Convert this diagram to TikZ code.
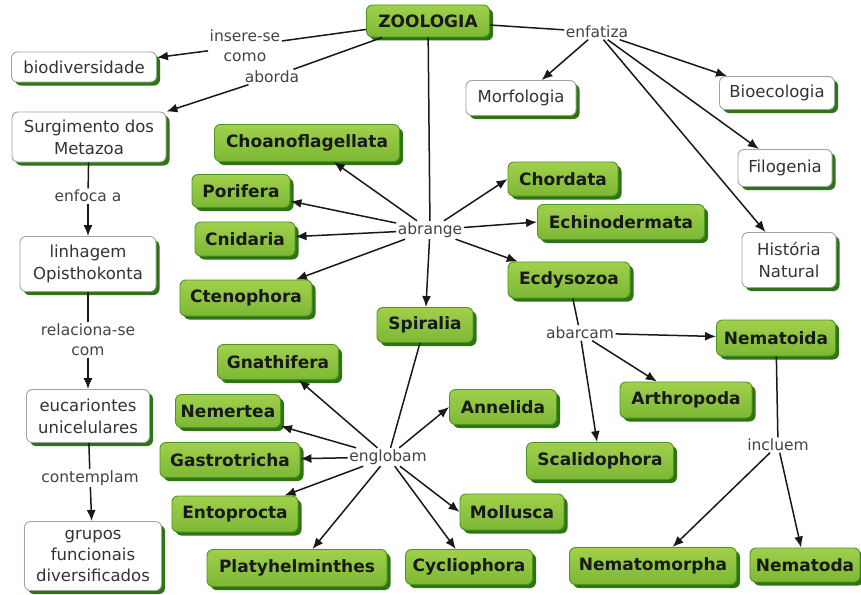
\documentclass[tikz,border=0pt]{standalone}
\usepackage{fontspec}
\setmainfont{DejaVu Sans}
\usetikzlibrary{arrows.meta,shadows}
\definecolor{gtop}{HTML}{A0D04C}
\definecolor{gbot}{HTML}{7CB834}
\definecolor{gborder}{HTML}{4E9422}
\definecolor{gshadow}{HTML}{2F7414}
\definecolor{wborder}{HTML}{9AA89A}
\definecolor{wtext}{HTML}{333333}
\definecolor{phr}{HTML}{444444}
\begin{document}
\begin{tikzpicture}[x=1pt,y=-1pt,
  wh/.style 2 args={minimum width=#1, minimum height=#2},
  gbox/.style={draw=gborder, line width=0.9pt, rounded corners=6pt,
    top color=gtop, bottom color=gbot, text=black!90,
    font=\fontsize{17}{21}\selectfont\bfseries, inner xsep=3pt, inner ysep=2pt,
    drop shadow={shadow xshift=3.5pt, shadow yshift=-3.5pt, fill=gshadow, opacity=1}},
  wbox/.style={draw=wborder, line width=0.9pt, rounded corners=6pt, fill=white,
    text=wtext, align=center,
    font=\fontsize{16.5}{22}\selectfont, inner xsep=3pt, inner ysep=2pt,
    drop shadow={shadow xshift=3.5pt, shadow yshift=-3.5pt, fill=gshadow, opacity=1}},
  phrase/.style={text=phr, align=center, font=\fontsize{15.5}{20}\selectfont,
    inner sep=1.5pt},
  con/.style={draw=black!90, line width=1.5pt},
  arr/.style={con, -{Latex[length=11pt,width=9pt]}}
]
\useasboundingbox (0,0) rectangle (861,594);
\fill[white] (0,0) rectangle (861,594);

% concepts
\node[gbox, wh={123}{32}] (zoo) at (428,21) {ZOOLOGIA};
\node[wbox, wh={145}{30}] (bio) at (84,67) {biodiversidade};
\node[wbox, wh={154}{50}] (surg) at (89,137) {Surgimento dos\\Metazoa};
\node[wbox, wh={136}{55}] (linh) at (88,264) {linhagem\\Opisthokonta};
\node[wbox, wh={123}{53}] (euc) at (88,416) {eucariontes\\unicelulares};
\node[wbox, wh={137}{69}, font=\fontsize{16.5}{21}\selectfont] (grup) at (93,556) {grupos\\funcionais\\diversificados};
\node[wbox, wh={110}{35}] (morf) at (521,98) {Morfologia};
\node[wbox, wh={115}{33}] (bioe) at (777,93) {Bioecologia};
\node[wbox, wh={94}{37}] (filo) at (785,168) {Filogenia};
\node[wbox, wh={94}{55}] (hist) at (789,260) {História\\Natural};

\node[gbox, wh={185}{37}] (choa) at (307,143) {Choanoflagellata};
\node[gbox, wh={98}{33}] (pori) at (241,191) {Porifera};
\node[gbox, wh={100}{34}] (cnid) at (245,239) {Cnidaria};
\node[gbox, wh={132}{36}] (cten) at (246,298) {Ctenophora};
\node[gbox, wh={110}{34}] (chor) at (563,179) {Chordata};
\node[gbox, wh={167}{35}] (echi) at (621,222) {Echinodermata};
\node[gbox, wh={122}{36}] (ecdy) at (569,280) {Ecdysozoa};
\node[gbox, wh={96}{35}] (spir) at (425,325) {Spiralia};
\node[gbox, wh={121}{35}] (gnat) at (278,362) {Gnathifera};
\node[gbox, wh={105}{33}] (neme) at (228,411) {Nemertea};
\node[gbox, wh={140}{35}] (gast) at (230,460) {Gastrotricha};
\node[gbox, wh={126}{36}] (ento) at (235,514) {Entoprocta};
\node[gbox, wh={180}{37}] (plat) at (297,568) {Platyhelminthes};
\node[gbox, wh={107}{35}] (anne) at (503,407) {Annelida};
\node[gbox, wh={104}{36}] (moll) at (512,512) {Mollusca};
\node[gbox, wh={127}{35}] (cycl) at (469,567) {Cycliophora};
\node[gbox, wh={119}{36}] (nmtd) at (776,338) {Nematoida};
\node[gbox, wh={132}{36}] (arth) at (686,400) {Arthropoda};
\node[gbox, wh={147}{37}] (scal) at (600,461) {Scalidophora};
\node[gbox, wh={167}{37}] (nmtm) at (653,566) {Nematomorpha};
\node[gbox, wh={110}{34}] (nmtda) at (805,565) {Nematoda};

% linking phrases
\node[phrase] (ins) at (245,46) {insere-se\\como};
\node[phrase] (abo) at (272,77) {aborda};
\node[phrase] (enf) at (597,32) {enfatiza};
\node[phrase] (enfo) at (88,196) {enfoca a};
\node[phrase] (rel) at (88,340) {relaciona-se\\com};
\node[phrase] (cont) at (90,478) {contemplam};
\node[phrase] (abr) at (430,230) {abrange};
\node[phrase] (eng) at (388,457) {englobam};
\node[phrase] (abar) at (580,333) {abarcam};
\node[phrase] (incl) at (778,445) {incluem};

% connectors
\draw[con] (zoo) -- (ins);
\draw[arr] (ins) -- (bio);
\draw[con] (zoo) -- (abo);
\draw[arr] (abo) -- (surg);
\draw[con] (zoo) -- (enf);
\draw[arr] (enf) -- (morf);
\draw[arr] (enf) -- (bioe);
\draw[arr] (enf) -- (filo);
\draw[arr] (enf) -- (hist);
\draw[con] (zoo) -- (abr);

\draw[con] (surg) -- (enfo);
\draw[arr] (enfo) -- (linh);
\draw[con] (linh) -- (rel);
\draw[arr] (rel) -- (euc);
\draw[con] (euc) -- (cont);
\draw[arr] (cont) -- (grup);

\draw[arr] (abr) -- (choa);
\draw[arr] (abr) -- (pori);
\draw[arr] (abr) -- (cnid);
\draw[arr] (abr) -- (cten);
\draw[arr] (abr) -- (chor.west);
\draw[arr] (abr) -- (echi.west);
\draw[arr] (abr) -- (ecdy);
\draw[arr] (abr) -- (spir);

\draw[con] (spir) -- (eng);
\draw[arr] (eng) -- (gnat);
\draw[arr] (eng) -- (neme);
\draw[arr] (eng) -- (gast);
\draw[arr] (eng) -- (ento);
\draw[arr] (eng) -- (plat);
\draw[arr] (eng) -- (anne.west);
\draw[arr] (eng) -- (moll.west);
\draw[arr] (eng) -- (cycl);

\draw[con] (ecdy) -- (abar);
\draw[arr] (abar) -- (nmtd);
\draw[arr] (abar) -- (arth);
\draw[arr] (abar) -- (scal);

\draw[con] (nmtd) -- (incl);
\draw[arr] (incl) -- (nmtm);
\draw[arr] (incl) -- (nmtda);
\end{tikzpicture}
\end{document}
